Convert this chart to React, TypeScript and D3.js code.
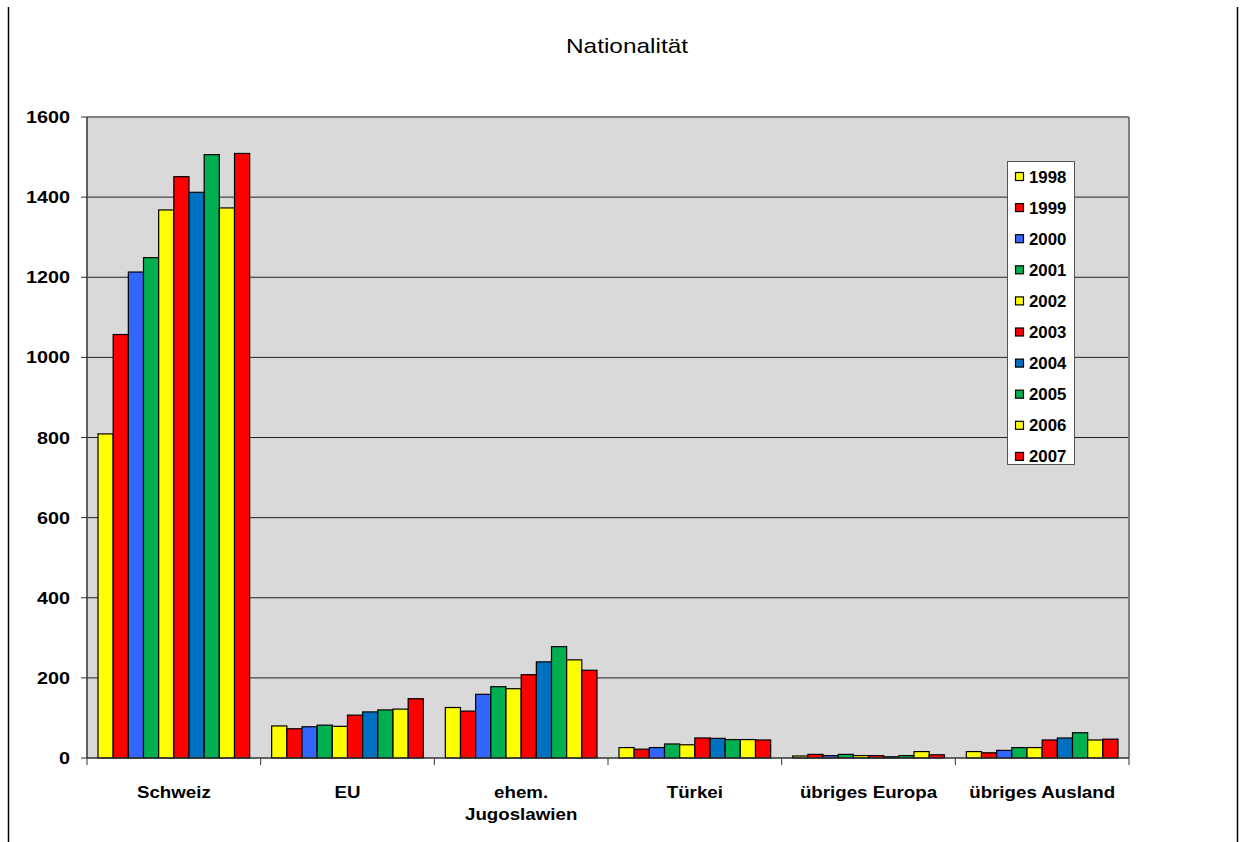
import React from "react";
import * as d3 from "d3";

const title = "Nationalität";
const categories = ["Schweiz", "EU", "ehem.\nJugoslawien", "Türkei", "übriges Europa", "übriges Ausland"];
const years = ["1998", "1999", "2000", "2001", "2002", "2003", "2004", "2005", "2006", "2007"];
const yearColors = ["#FFFF00", "#FF0000", "#3366FF", "#00B050", "#FFFF00", "#FF0000", "#0070C0", "#00B050", "#FFFF00", "#FF0000"];

// values per category, one per year 1998..2007
const schweiz = [809, 1057, 1213, 1249, 1368, 1451, 1412, 1506, 1373, 1509];
const eu = [80, 73, 78, 82, 79, 107, 115, 120, 122, 148];
const jugoslawien = [126, 117, 159, 178, 173, 208, 240, 278, 245, 219];
const tuerkei = [26, 22, 26, 35, 33, 50, 49, 46, 46, 45];
const uebrigesEuropa = [5, 9, 6, 9, 6, 6, 3, 6, 16, 8];
const uebrigesAusland = [16, 13, 19, 26, 26, 45, 50, 63, 45, 47];
const seriesByCategory = [schweiz, eu, jugoslawien, tuerkei, uebrigesEuropa, uebrigesAusland];

const yTicks = [0, 200, 400, 600, 800, 1000, 1200, 1400, 1600];

const FONT = "'Liberation Sans', Arial, Helvetica, sans-serif";

function SText({ x, y, sx = 1.2, anchor = "middle", size = 14, weight = "bold", children }: any) {
  return (
    <text
      transform={`translate(${x},${y}) scale(${sx},1)`}
      textAnchor={anchor}
      fontFamily={FONT}
      fontSize={size}
      fontWeight={weight}
      fill="#000"
    >
      {children}
    </text>
  );
}

export default function App() {
  const left = 87, right = 1129, top = 117, bottom = 758;
  const y = d3.scaleLinear().domain([0, 1600]).range([bottom, top]);
  const x0 = d3.scaleBand<string>().domain(categories).range([left, right]).paddingInner(0).paddingOuter(0);
  const x1 = d3.scaleBand<string>().domain(years).range([0, x0.bandwidth()]).paddingInner(0).paddingOuter(0.725);

  const legX = 1007, legY = 161, legW = 67, legH = 303;
  const legStep = 31.1;

  return (
    <svg
      width={1242}
      height={842}
      style={{ position: "absolute", left: 0, top: 0, background: "#fff" }}
    >
      <rect x={0} y={0} width={1242} height={842} fill="#fff" />
      {/* outer frame lines */}
      <line x1={8.5} x2={8.5} y1={7} y2={842} stroke="#000" strokeWidth={1.5} />
      <line x1={1237.5} x2={1237.5} y1={7} y2={842} stroke="#000" strokeWidth={1.5} />

      <SText x={627} y={53} size={20} weight="normal" sx={1.22}>{title}</SText>

      {/* plot area */}
      <rect x={left} y={top} width={right - left} height={bottom - top} fill="#D9D9D9" />
      {yTicks.filter((t) => t > 0 && t < 1600).map((t) => (
        <line key={t} x1={left} x2={right} y1={y(t)} y2={y(t)} stroke="#222" strokeWidth={1} />
      ))}
      {/* plot border top & right */}
      <line x1={left} x2={right} y1={top} y2={top} stroke="#808080" strokeWidth={2} />
      <line x1={right} x2={right} y1={top} y2={bottom} stroke="#808080" strokeWidth={2} />

      {/* bars */}
      {categories.map((c, ci) => (
        <g key={c} transform={`translate(${x0(c)},0)`}>
          {years.map((yr, yi) => {
            const v = seriesByCategory[ci][yi];
            return (
              <rect
                key={yr}
                x={x1(yr)}
                y={y(v)}
                width={x1.bandwidth()}
                height={bottom - y(v)}
                fill={yearColors[yi]}
                stroke="#000"
                strokeWidth={1.2}
              />
            );
          })}
        </g>
      ))}

      {/* y axis */}
      <line x1={left} x2={left} y1={top} y2={bottom} stroke="#333" strokeWidth={1.5} />
      {yTicks.map((t) => (
        <g key={t}>
          <line x1={left - 6} x2={left} y1={y(t)} y2={y(t)} stroke="#333" strokeWidth={1} />
          <SText x={70} y={y(t) + 6} anchor="end" size={16.5} sx={1.2}>{t}</SText>
        </g>
      ))}

      {/* x axis */}
      <line x1={left} x2={right} y1={bottom} y2={bottom} stroke="#333" strokeWidth={1.5} />
      {categories.map((c) => (
        <line key={"t" + c} x1={x0(c)!} x2={x0(c)!} y1={bottom} y2={bottom + 7} stroke="#333" strokeWidth={1} />
      ))}
      <line x1={right} x2={right} y1={bottom} y2={bottom + 7} stroke="#333" strokeWidth={1} />
      {categories.map((c) => {
        const cx = x0(c)! + x0.bandwidth() / 2;
        return c.split("\n").map((ln, li) => (
          <SText key={c + li} x={cx} y={798 + li * 22} size={16} sx={1.17}>{ln}</SText>
        ));
      })}

      {/* legend */}
      <rect x={legX + 0.5} y={legY + 0.5} width={legW} height={legH} fill="#fff" stroke="#555" strokeWidth={1} />
      {years.map((yr, i) => {
        const cy = legY + 15.5 + i * legStep;
        return (
          <g key={yr}>
            <rect x={1015.5} y={cy - 4} width={8} height={8} fill={yearColors[i]} stroke="#000" strokeWidth={1.2} />
            <SText x={1029} y={cy + 6} anchor="start" size={16} sx={1.05}>{yr}</SText>
          </g>
        );
      })}
    </svg>
  );
}
